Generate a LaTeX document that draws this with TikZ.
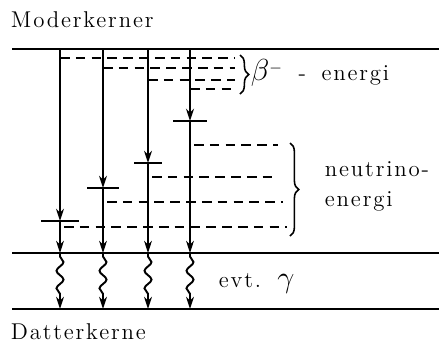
\documentclass[tikz,border=0pt]{standalone}
\usepackage{fontspec}
\setmainfont{Latin Modern Roman}
\newfontfamily\spredt[LetterSpace=8]{Latin Modern Roman}
\usetikzlibrary{arrows.meta,decorations.pathmorphing,decorations.pathreplacing}

\begin{document}
\begin{tikzpicture}[x=0.02cm,y=-0.02cm,>=Stealth,line width=1.1pt,
  niveau/.style={line width=1.4pt},
  stiplet/.style={line width=0.7pt,dash pattern=on 5.5pt off 3.5pt},
  tekst/.style={font=\spredt\fontsize{13}{17}\selectfont,inner sep=0pt,anchor=west,align=left},
  spids/.style={-{Stealth[length=7pt,width=4.5pt]}},
  bolge/.style={decorate,decoration={snake,amplitude=2pt,segment length=10pt,pre length=2pt,post length=7pt}},
  klamme/.style={decorate,decoration={brace,amplitude=5pt},line width=0.9pt}]
\useasboundingbox (0,0) rectangle (439,343);
% ---- niveauer ----
\coordinate (mor-v) at (12,49);  \coordinate (mor-h) at (439,49);
\coordinate (mid-v) at (12,253); \coordinate (mid-h) at (439,253);
\coordinate (dat-v) at (12,309); \coordinate (dat-h) at (439,309);
\draw[niveau] (mor-v) -- (mor-h);
\draw[niveau] (mid-v) -- (mid-h);
\draw[niveau] (dat-v) -- (dat-h);
\node[tekst] (mor) at (10,20) {Moderkerner};
\node[tekst] (dat) at (10,332) {Datterkerne};
% ---- overgange ----
\foreach \n/\x/\b/\h/\u/\l/\e in {a/60/221/19/58/227/287,b/103/188/16/68/202/283,
                                 c/148/163/14/80/177/278,d/190/121/17/89/145/278}{
  \coordinate (\n-top) at (\x,49);
  \coordinate (\n-bar) at (\x,\b);
  \coordinate (\n-mid) at (\x,253);
  \coordinate (\n-bot) at (\x,309);
  \draw[stiplet] (\x,\u) -- (235,\u);
  \draw[stiplet] (\x+4,\l) -- (\e,\l);
  \draw[spids] (\n-top) -- (\n-bar);
  \draw[line width=1.3pt] (\x-\h,\b) -- (\x+\h,\b);
  \draw[spids,line width=0.6pt] (\n-bar) -- (\n-mid);
  \draw[spids,bolge] (\n-mid) -- (\n-bot);}
% ---- klammer og tekst ----
\draw[klamme] (240,55) -- (240,94);
\draw[klamme] (290,143) -- (290,236);
\node[tekst] (beta) at (250,73) {{\LARGE$\beta$}$^{-}$ \;-\; energi};
\node[tekst] (neutrino) at (324,186) {neutrino-\\energi};
\node[tekst] (gamma) at (218,283) {evt.\, {\LARGE$\gamma$}};
\end{tikzpicture}
\end{document}
